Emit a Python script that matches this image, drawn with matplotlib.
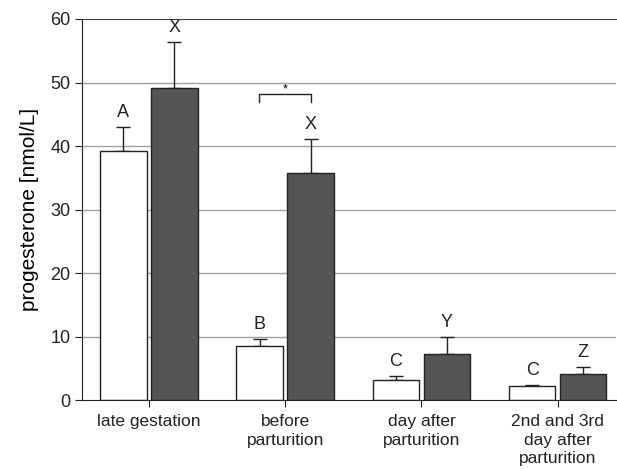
import matplotlib
matplotlib.use('Agg')
import matplotlib.pyplot as plt
import numpy as np

plt.rcParams['font.family'] = ['Liberation Sans', 'DejaVu Sans']

# ==================== data ====================
categories = ['late gestation', 'before\nparturition', 'day after\nparturition',
              '2nd and 3rd\nday after\nparturition']
white_mean = [39.2, 8.5, 3.15, 2.2]
white_sd = [3.8, 1.15, 0.65, 0.2]
dark_mean = [49.1, 35.7, 7.25, 4.05]
dark_sd = [7.3, 5.4, 2.65, 1.15]
white_letters = ['A', 'B', 'C', 'C']
dark_letters = ['X', 'X', 'Y', 'Z']

x = np.arange(len(categories))
w = 0.34
off = 0.187

fig = plt.figure(figsize=(6.17, 4.69), dpi=100)
ax = fig.add_axes([0.133, 0.147, 0.866, 0.8125])

# grid lines
for yv in [10, 20, 30, 40, 50]:
    ax.axhline(yv, color='#a0a0a0', lw=1, zorder=0)

ax.bar(x - off, white_mean, w, color='white', edgecolor='#222222', lw=1, zorder=2)
ax.bar(x + off, dark_mean, w, color='#555555', edgecolor='#222222', lw=1, zorder=2)

ax.errorbar(x - off, white_mean, yerr=[np.zeros(4), white_sd], fmt='none',
            ecolor='#222222', elinewidth=1, capsize=5, capthick=1, zorder=1)
ax.errorbar(x + off, dark_mean, yerr=[np.zeros(4), dark_sd], fmt='none',
            ecolor='#222222', elinewidth=1, capsize=5, capthick=1, zorder=1)

for i in range(4):
    ax.text(x[i] - off, white_mean[i] + white_sd[i] + 0.9, white_letters[i],
            ha='center', va='bottom', fontsize=13, color='#222222')
    ax.text(x[i] + off, dark_mean[i] + dark_sd[i] + 0.9, dark_letters[i],
            ha='center', va='bottom', fontsize=13, color='#222222')

# significance bracket
ax.plot([1 - 0.19, 1 - 0.19, 1 + 0.19, 1 + 0.19], [47.0, 48.2, 48.2, 47.0],
        color='#222222', lw=1)
ax.text(1, 48.0, '*', ha='center', va='bottom', fontsize=9)

ax.set_xlim(-0.49, 3.43)
ax.set_ylim(0, 60)
ax.set_yticks(range(0, 61, 10))
ax.set_xticks(x)
ax.set_xticklabels(categories, fontsize=12.5, linespacing=1.3)
ax.tick_params(axis='y', labelsize=13, length=5, direction='out', colors='#222222')
ax.tick_params(axis='x', length=5, direction='out', colors='#222222', pad=5)
ax.set_ylabel('progesterone [nmol/L]', fontsize=15, labelpad=8)

ax.spines['right'].set_visible(False)
ax.spines['top'].set_color('#444444')
ax.spines['left'].set_color('#222222')
ax.spines['bottom'].set_color('#222222')

plt.savefig('out.png', dpi=100, facecolor='white')
